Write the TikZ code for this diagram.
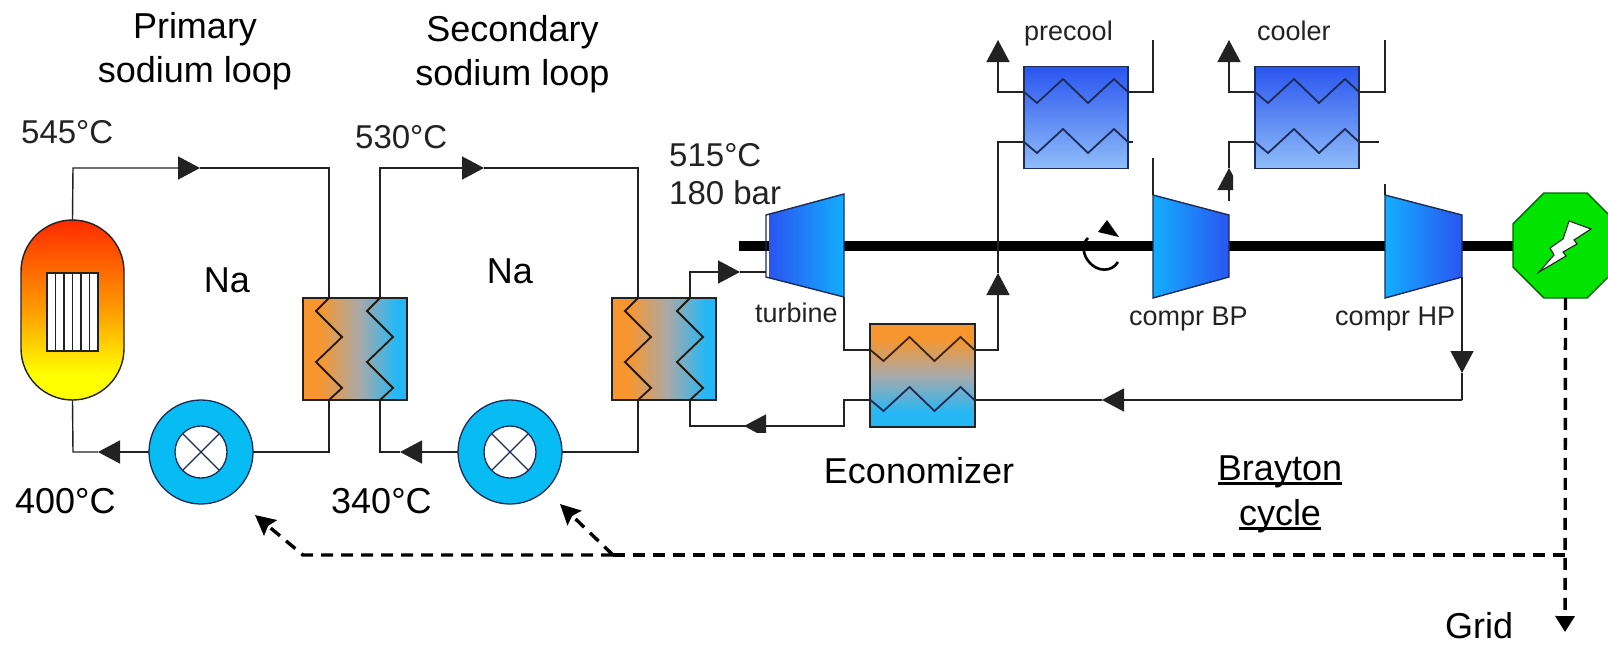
\documentclass[tikz,border=0pt]{standalone}
\usepackage{fontspec}
\setmainfont{Liberation Sans}
\usetikzlibrary{arrows.meta,shapes.misc,shapes.geometric}
\definecolor{hxo}{HTML}{F7962E}
\definecolor{hxg}{HTML}{A9A9A9}
\definecolor{hxb}{HTML}{25B7F5}
\definecolor{pipec}{HTML}{222222}
\definecolor{navy}{HTML}{1C2C58}
\definecolor{deepb}{HTML}{2A55F0}
\definecolor{skyb}{HTML}{12AEFF}
\definecolor{pumpc}{HTML}{06BCF2}
\definecolor{palec}{HTML}{8FBDF8}
\definecolor{genc}{HTML}{00E400}
\definecolor{rtop}{HTML}{FF2A00}
\definecolor{rmid}{HTML}{FF9C00}
\definecolor{rbot}{HTML}{FFFF00}
\pgfdeclarehorizontalshading{hxh}{100bp}{color(0bp)=(hxo); color(25bp)=(hxo); color(33bp)=(hxo); color(52bp)=(hxg); color(70bp)=(hxb); color(75bp)=(hxb); color(100bp)=(hxb)}
\pgfdeclareverticalshading{hxv}{100bp}{color(0bp)=(hxb); color(25bp)=(hxb); color(32bp)=(hxb); color(50bp)=(hxg); color(68bp)=(hxo); color(75bp)=(hxo); color(100bp)=(hxo)}
\pgfdeclareverticalshading{reac}{100bp}{color(0bp)=(rbot); color(25bp)=(rbot); color(32bp)=(rbot); color(50bp)=(rmid); color(75bp)=(rtop); color(100bp)=(rtop)}
\newcommand\ulin[1]{\setbox0\hbox{#1}\rlap{\rule[-5pt]{\wd0}{2.6pt}}\box0 }
\newcommand\vcoilat[1]{\draw[coilb,shift={(#1,0)}] (0,298)--(-13,311)--(13,337)--(-13,362)--(13,388)--(0,400);}
\newcommand\hcoilat[3]{\draw[#3,shift={(#1,#2)}] (0,0)--(13,11)--(39,-13)--(64,11)--(90,-13)--(104,0);}
\tikzset{
  x=1pt,y=-1pt,
  pipe/.style={draw=pipec,line width=1.4pt},
  head/.style={-{Triangle[length=22pt,width=23pt]}},
  shaft/.style={line width=10pt,black},
  ctl/.style={black,line width=3.4pt,dash pattern=on 12pt off 8pt},
  ctlhead/.style={-{Stealth[length=20pt,width=20pt,inset=3pt]}},
  gridhead/.style={-{Triangle[length=16pt,width=19pt]}},
  coilb/.style={draw=black!85!hxo,line width=1.8pt},
  coiln/.style={draw=navy,line width=1.8pt},
  coilr/.style={draw=black!75!hxo,line width=1.8pt},
  hxbox/.style={draw=pipec,line width=1.4pt,inner sep=0,outer sep=0,minimum width=104pt,minimum height=102pt},
  cooler/.style={hxbox,draw=navy,top color=deepb,bottom color=palec},
  pump/.style={circle,draw=navy,line width=1.3pt,fill=pumpc,inner sep=0,outer sep=0,minimum size=104pt},
  pumpin/.style={circle,draw=navy,line width=1.3pt,fill=white,inner sep=0,outer sep=0,minimum size=52pt},
  big/.style={inner sep=0,text=black,font=\fontsize{36}{44}\selectfont,align=center},
  mid/.style={inner sep=0,anchor=base west,text=pipec,font=\fontsize{33}{38}\selectfont},
  lab/.style={inner sep=0,anchor=base west,text=pipec,font=\fontsize{27}{30}\selectfont},
  mach/.style={draw=navy,line width=1.4pt},
}
\begin{document}
\begin{tikzpicture}
\useasboundingbox (0,0) rectangle (1608,646);
\clip (0,0) rectangle (1608,646);
% --- shaft
\coordinate (shs) at (739,246);
\coordinate (she) at (1520,246);
\draw[shaft] (shs) -- (she);
% --- equipment
\node[rounded rectangle,rounded rectangle arc length=180,rotate=90,draw=pipec,line width=1.4pt,inner sep=0,outer sep=0,
      minimum width=180pt,minimum height=103pt,shading=reac,shading angle=0] (reactor) at (72.5,310) {};
\node[draw=pipec,line width=1.2pt,fill=white,inner sep=0,outer sep=0,minimum width=51pt,minimum height=78pt] (core) at (72.5,312) {};
\foreach \xx in {55.5,64,72.5,81,89.5} \draw[pipec,line width=1.2pt] (\xx,273) -- (\xx,351);
\coordinate (hx1a) at (329,298); \coordinate (hx1b) at (329,400);
\coordinate (hx1c) at (380,298); \coordinate (hx1d) at (380,400);
\coordinate (hx2a) at (638,298); \coordinate (hx2b) at (638,400);
\coordinate (hx2c) at (690,298); \coordinate (hx2d) at (690,400);
% pipes, primary
\coordinate (c1) at (73,168); \coordinate (c2) at (329,168); \coordinate (a1) at (200,168);
\coordinate (c3) at (329,452); \coordinate (c4) at (73,452); \coordinate (a2) at (98,452);
\coordinate (p1) at (201,452); \coordinate (p2) at (510,452);
\draw[pipe,head] (reactor.east) -- (c1) -- (a1);
\draw[pipe] (a1) -- (c2) -- (hx1a);
\draw[pipe] (hx1b) -- (c3) -- (p1);
\draw[pipe,head] (p1) -- (a2);
\draw[pipe] (a2) -- (c4) -- (reactor.west);
% pipes, secondary
\coordinate (d1) at (380,168); \coordinate (d2) at (638,168); \coordinate (a3) at (484,168);
\coordinate (d3) at (638,452); \coordinate (d4) at (380,452); \coordinate (a4) at (400,452);
\draw[pipe,head] (hx1c) -- (d1) -- (a3);
\draw[pipe] (a3) -- (d2) -- (hx2a);
\draw[pipe] (hx2b) -- (d3) -- (p2);
\draw[pipe,head] (p2) -- (a4);
\draw[pipe] (a4) -- (d4) -- (hx1d);
% HX boxes
\node[hxbox,shading=hxh] (hx1) at (355,349) {};
\node[hxbox,shading=hxh] (hx2) at (664,349) {};
\vcoilat{329}\vcoilat{380}\vcoilat{638}\vcoilat{690}
% pumps
\node[pump] (pump1) at (p1) {};
\node[pumpin] (pin1) at (p1) {};
\node[pump] (pump2) at (p2) {};
\node[pumpin] (pin2) at (p2) {};
\foreach \pp in {pin1,pin2} {
  \draw[navy,line width=1.2pt] (\pp.45) -- (\pp.225);
  \draw[navy,line width=1.2pt] (\pp.135) -- (\pp.-45);
}
% turbine
\coordinate (tnw) at (766,215); \coordinate (tne) at (844,194);
\coordinate (tse) at (844,297); \coordinate (tsw) at (766,277);
\coordinate (tin) at (766,272);
\shade[left color=deepb,right color=skyb] (769,214) -- (tne) -- (tse) -- (769,278) -- cycle;
\draw[mach] (tnw) -- (tne) -- (tse) -- (tsw) -- cycle;
% compressors
\coordinate (bnw) at (1153,195); \coordinate (bne) at (1229,215);
\coordinate (bse) at (1229,277); \coordinate (bsw) at (1153,298);
\shade[left color=skyb,right color=deepb] (bnw) -- (bne) -- (bse) -- (bsw) -- cycle;
\draw[mach] (bnw) -- (bne) -- (bse) -- (bsw) -- cycle;
\coordinate (hnw) at (1385,195); \coordinate (hne) at (1462,215);
\coordinate (hse) at (1462,277); \coordinate (hsw) at (1385,298);
\shade[left color=skyb,right color=deepb] (hnw) -- (hne) -- (hse) -- (hsw) -- cycle;
\draw[mach] (hnw) -- (hne) -- (hse) -- (hsw) -- cycle;
% brayton pipes
\coordinate (e1) at (690,272); \coordinate (a5) at (740,272);
\draw[pipe,head] (hx2c) -- (e1) -- (a5);
\draw[pipe] (a5) -- (tin);
\coordinate (econtl) at (870,350); \coordinate (econtr) at (975,350);
\coordinate (econbl) at (870,400); \coordinate (econbr) at (975,400);
\coordinate (f1) at (844,350);
\draw[pipe] (tse) -- (f1) -- (econtl);
\coordinate (f2) at (998,350); \coordinate (a6) at (998,273); \coordinate (f3) at (998,142);
\coordinate (pcbl) at (1024,142); \coordinate (pcbr) at (1128,142); \coordinate (pcbe) at (1133,142);
\coordinate (pctl) at (1024,92); \coordinate (pctr) at (1128,92);
\draw[pipe,head] (econtr) -- (f2) -- (a6);
\draw[pipe] (a6) -- (f3) -- (pcbl);
\draw[pipe] (pcbr) -- (pcbe);
\coordinate (g1) at (998,92); \coordinate (g2) at (998,40);
\draw[pipe,head] (pctl) -- (g1) -- (g2);
\coordinate (g3) at (1153,92); \coordinate (g4) at (1153,40);
\draw[pipe] (pctr) -- (g3) -- (g4);
\coordinate (g5) at (1153,158);
\draw[pipe] (g5) -- (bnw);
\coordinate (clbl) at (1255,142); \coordinate (clbr) at (1359,142); \coordinate (clbe) at (1379,142);
\coordinate (cltl) at (1255,92); \coordinate (cltr) at (1359,92);
\coordinate (j1) at (1229,168); \coordinate (j2) at (1229,142);
\begin{scope}
\clip (1210,150) rectangle (1233,200);
\draw[pipe,head] (bne) -- (j1);
\end{scope}
\draw[pipe] (j1) -- (j2) -- (clbl);
\draw[pipe] (clbr) -- (clbe);
\coordinate (k1) at (1229,92); \coordinate (k2) at (1229,40);
\draw[pipe,head] (cltl) -- (k1) -- (k2);
\coordinate (k3) at (1385,92); \coordinate (k4) at (1385,40);
\draw[pipe] (cltr) -- (k3) -- (k4);
\coordinate (k5) at (1385,184);
\draw[pipe] (k5) -- (hnw);
\coordinate (m1) at (1462,373); \coordinate (m2) at (1462,400); \coordinate (m3) at (1102,400);
\draw[pipe,head] (hse) -- (m1);
\draw[pipe] (m1) -- (m2);
\draw[pipe,head] (m2) -- (m3);
\draw[pipe] (m3) -- (econbr);
\coordinate (n1) at (844,400); \coordinate (n2) at (844,426); \coordinate (n3) at (744,426); \coordinate (n4) at (690,426);
\draw[pipe] (econbl) -- (n1) -- (n2) -- (n3);
\begin{scope}
\clip (735,400) rectangle (775,432);
\draw[pipe,head] (n2) -- (n3);
\end{scope}
\draw[pipe] (n3) -- (n4) -- (hx2d);
% economizer and coolers
\node[hxbox,minimum width=105pt,minimum height=103pt,draw=pipec,shading=hxv] (econ) at (922.5,375.5) {};
\node[cooler] (precool) at (1076,117.5) {};
\node[cooler] (coolerb) at (1307,117.5) {};
\hcoilat{870.5}{350}{coilr}
\hcoilat{870.5}{400}{coiln}
\hcoilat{1024}{92}{coiln}
\hcoilat{1024}{142}{coiln}
\hcoilat{1255}{92}{coiln}
\hcoilat{1255}{142}{coiln}
% rotation mark
\draw[black,line width=2.6pt] (1088,238) .. controls (1081,244) and (1083,256) .. (1090,263) .. controls (1097,271) and (1111,273) .. (1118,262);
\fill[black] (1107,220) -- (1119,237) -- (1098,232) -- cycle;
% generator
\node[regular polygon,regular polygon sides=8,draw=black!60!green,line width=1.4pt,fill=genc,inner sep=0,outer sep=0,minimum size=113.6pt] (gen) at (1565.5,245.5) {};
\draw[pipec,line width=1.1pt,fill=white] (1569,221) -- (1591,229) -- (1574,240) -- (1577,244) -- (1563,252) -- (1566,256) -- (1539,272) -- (1554,255) -- (1550,248) -- (1563,239) -- cycle;
% dashed supply
\coordinate (s1) at (1565,555); \coordinate (s2) at (1565,632);
\coordinate (s3) at (613,555); \coordinate (s4) at (303,555);
\coordinate (t1) at (560,504); \coordinate (t2) at (255,515);
\draw[ctl,gridhead] (gen.south) -- (s2);
\draw[ctl] (s1) -- (s3);
\draw[ctl,ctlhead] (s3) -- (t1);
\draw[ctl,ctlhead] (s3) -- (s4) -- (t2);
% labels
\node[big] (tprimary) at (195,51) {Primary\\sodium loop};
\node[big] (tsecondary) at (512.5,54) {Secondary\\sodium loop};
\node[big,anchor=base] (tna1) at (227,292) {Na};
\node[big,anchor=base] (tna2) at (510,283) {Na};
\node[big,anchor=base] (tecon) at (919,483) {Economizer};
\node[big,anchor=base] (tbray) at (1280,480) {\ulin{Brayton}};
\node[big,anchor=base] (tcyc) at (1280,525) {\ulin{cycle}};
\node[big,anchor=base west] (tgrid) at (1445,638) {Grid};
\node[big,anchor=base west] (t400) at (15,513) {400°C};
\node[big,anchor=base west] (t340) at (331,513) {340°C};
\node[mid] (t545) at (21,143) {545°C};
\node[mid] (t530) at (355,148) {530°C};
\node[mid] (t515) at (669,166) {515°C};
\node[mid] (t180) at (669,204) {180 bar};
\node[lab] (tpre) at (1024,40) {precool};
\node[lab] (tcool) at (1257,40) {cooler};
\node[lab] (tturb) at (755,322) {turbine};
\node[lab] (tbp) at (1129,325) {compr BP};
\node[lab] (thp) at (1335,325) {compr HP};
\end{tikzpicture}
\end{document}
